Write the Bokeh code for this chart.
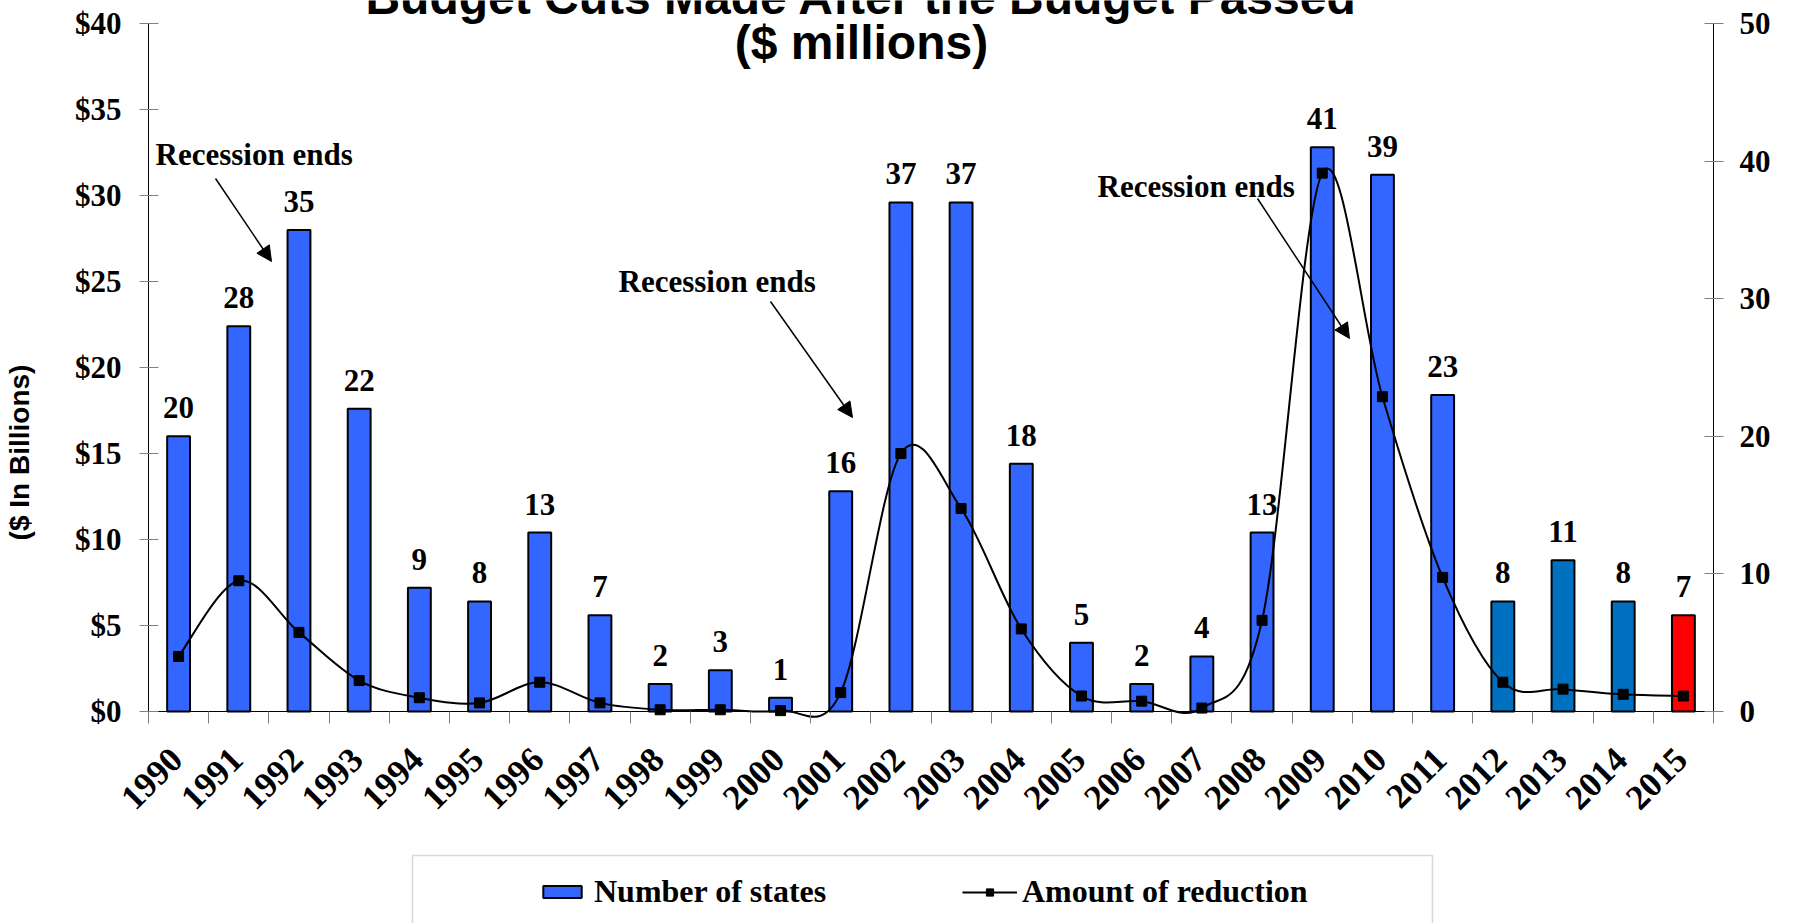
import numpy as np
from math import pi
from bokeh.plotting import figure
from bokeh.models import (Range1d, LinearAxis, FixedTicker, NumeralTickFormatter, ColumnDataSource,
                          LabelSet, Arrow, NormalHead, Legend, LegendItem, BoxAnnotation)
from bokeh.core.properties import value
from bokeh.embed import file_html
from bokeh.resources import INLINE

# ---------------- data ----------------
years = ["1990", "1991", "1992", "1993", "1994", "1995", "1996", "1997", "1998", "1999",
         "2000", "2001", "2002", "2003", "2004", "2005", "2006", "2007", "2008", "2009",
         "2010", "2011", "2012", "2013", "2014", "2015"]
num_states = [20, 28, 35, 22, 9, 8, 13, 7, 2, 3, 1, 16, 37, 37, 18, 5, 2, 4, 13, 41, 39, 23, 8, 11, 8, 7]
reduction_billions = [3.2, 7.6, 4.6, 1.8, 0.8, 0.5, 1.7, 0.5, 0.1, 0.1, 0.05, 1.1, 15.0, 11.8, 4.8,
                      0.9, 0.6, 0.2, 5.3, 31.3, 18.3, 7.8, 1.7, 1.3, 1.0, 0.9]
left_ticks = [0, 5, 10, 15, 20, 25, 30, 35, 40]
right_ticks = [0, 10, 20, 30, 40, 50]

# ---------------- styles ----------------
BAR_BLUE = "#3366FF"
highlight = {"2012": "#0070C0", "2013": "#0070C0", "2014": "#0070C0", "2015": "#FF0000"}
SERIF = "Liberation Serif"
SANS = "Liberation Sans"

W, H = 1796, 923
XL, XR, YB, YT = 148, 1713, 711, 23   # axis positions in page pixels
n = len(years)
LMAX, RMAX = 40, 50

def dx(px):
    return (px - XL) / (XR - XL) * n

def dy(py):
    return (YB - py) / (YB - YT) * LMAX

# the plot frame covers the whole canvas; axes are pinned at the data edges
p = figure(width=W, height=H, x_range=Range1d(dx(0), dx(W)), y_range=Range1d(dy(H), dy(0)),
           output_backend="svg", toolbar_location=None,
           min_border_left=0, min_border_right=0, min_border_top=0, min_border_bottom=0)
p.extra_y_ranges = {"states": Range1d(dy(H) * RMAX / LMAX, dy(0) * RMAX / LMAX)}
p.outline_line_color = None
p.xgrid.visible = False
p.ygrid.visible = False
p.background_fill_color = "white"
p.border_fill_color = "white"

centers = [i + 0.5 for i in range(n)]
colors = [highlight.get(y, BAR_BLUE) for y in years]
src = ColumnDataSource(dict(x=centers, states=num_states, color=colors,
                            label=[str(v) for v in num_states], red=reduction_billions))

bars = p.vbar(x="x", top="states", width=0.38, bottom=0, source=src, y_range_name="states",
              fill_color="color", line_color="black", line_width=2)

# smooth line (Bezier segments through every data point)
xc = np.array(centers)
yc = np.array(reduction_billions)
xp = np.concatenate([[xc[0]], xc, [xc[-1]]])
yp = np.concatenate([[yc[0]], yc, [yc[-1]]])
i = np.arange(n - 1)
bz = dict(x0=xc[:-1], y0=yc[:-1], x1=xc[1:], y1=yc[1:],
          cx0=xp[i + 1] + (xp[i + 2] - xp[i]) / 6, cy0=yp[i + 1] + (yp[i + 2] - yp[i]) / 6,
          cx1=xp[i + 2] - (xp[i + 3] - xp[i + 1]) / 6, cy1=yp[i + 2] - (yp[i + 3] - yp[i + 1]) / 6)
curve = p.bezier(source=ColumnDataSource(bz), x0="x0", y0="y0", x1="x1", y1="y1",
                 cx0="cx0", cy0="cy0", cx1="cx1", cy1="cy1", line_color="black", line_width=2)
marks = p.scatter(x="x", y="red", source=src, marker="square", size=10,
                  fill_color="black", line_color="black")

# value labels above bars
p.add_layout(LabelSet(x="x", y="states", text="label", source=src, y_range_name="states",
                      y_offset=18, text_align="center", text_baseline="alphabetic",
                      text_font=value(SERIF), text_font_style="bold", text_font_size="31px",
                      text_color="black"))

# axes
yl = p.yaxis[0]
yl.ticker = FixedTicker(ticks=left_ticks)
yl.formatter = NumeralTickFormatter(format="$0")
yl.fixed_location = 0
yl.bounds = (0, LMAX)
yr = LinearAxis(y_range_name="states", ticker=FixedTicker(ticks=right_ticks),
                fixed_location=n, bounds=(0, RMAX))
p.add_layout(yr, "right")
for ax, tin, tout, so in ((yl, 10, 9, 18), (yr, 9, 10, 16)):
    ax.axis_line_color = "black"
    ax.major_tick_line_color = "#808080"
    ax.major_tick_in = tin
    ax.major_tick_out = tout
    ax.minor_tick_line_color = None
    ax.major_label_standoff = so
    ax.major_label_text_font = SERIF
    ax.major_label_text_font_style = "bold"
    ax.major_label_text_font_size = "31px"
    ax.major_label_text_color = "black"

label_shift = -0.04   # fine placement of the rotated year labels against the bar centres
xa = p.xaxis[0]
xa.fixed_location = 0
xa.bounds = (0, n)
xa.ticker = FixedTicker(ticks=[c + label_shift for c in centers], minor_ticks=list(range(n + 1)))
xa.major_label_overrides = {c + label_shift: y for c, y in zip(centers, years)}
xa.axis_line_color = "black"
xa.major_tick_line_color = None
xa.major_tick_in = 0
xa.major_tick_out = 12
xa.minor_tick_line_color = "#808080"
xa.minor_tick_in = 0
xa.minor_tick_out = 12
xa.major_label_orientation = pi / 4
xa.major_label_standoff = 30
xa.major_label_text_font = SERIF
xa.major_label_text_font_style = "bold"
xa.major_label_text_font_size = "35px"
xa.major_label_text_color = "black"

# title (first line runs off the top of the page)
titles = ColumnDataSource(dict(x=[dx(861), dx(861)], y=[dy(13), dy(58)],
                               t=["Budget Cuts Made After the Budget Passed", "($ millions)"]))
p.add_layout(LabelSet(x="x", y="y", text="t", source=titles, text_align="center",
                      text_baseline="alphabetic", text_font=value(SANS), text_font_style="bold",
                      text_font_size="48px", text_color="black"))

# y axis title
ytitle = ColumnDataSource(dict(x=[dx(28)], y=[dy(452)], t=["($ In Billions)"]))
p.add_layout(LabelSet(x="x", y="y", text="t", source=ytitle, angle=pi / 2, text_align="center",
                      text_baseline="alphabetic", text_font=value(SANS), text_font_style="bold",
                      text_font_size="28px", text_color="black"))

# recession annotations
note_txt = [(155, 164), (618, 291), (1097, 196)]
note_arr = [((215, 178), (271, 261)), ((770, 301), (852, 417)), ((1257, 198), (1349, 338))]
notes = ColumnDataSource(dict(x=[dx(a) for a, b in note_txt], y=[dy(b) for a, b in note_txt],
                              t=["Recession ends"] * 3))
p.add_layout(LabelSet(x="x", y="y", text="t", source=notes, text_align="left",
                      text_baseline="alphabetic", text_font=value(SERIF), text_font_style="bold",
                      text_font_size="31px", text_color="black"))
for (sx, sy), (ex, ey) in note_arr:
    p.add_layout(Arrow(x_start=dx(sx), y_start=dy(sy), x_end=dx(ex), y_end=dy(ey),
                       line_color="black", line_width=1.5,
                       end=NormalHead(size=15, fill_color="black", line_color="black")))

# legend box (runs off the bottom of the page) and the two legend entries
p.add_layout(BoxAnnotation(left=dx(412), right=dx(1432), top=dy(855), bottom=dy(1000),
                           fill_alpha=0, line_color="#808080", line_width=1.5))
common = dict(orientation="horizontal", padding=0, margin=0, border_line_color=None,
              background_fill_alpha=0, label_text_font=SERIF, label_text_font_style="bold",
              label_text_font_size="32px", label_text_color="black")
leg1 = Legend(items=[LegendItem(label="Number of states", renderers=[bars], index=0)],
              location=(538, H - 910), glyph_width=48, glyph_height=15,
              label_standoff=8, **common)
leg2 = Legend(items=[LegendItem(label="Amount of reduction", renderers=[curve, marks])],
              location=(962, H - 910), glyph_width=55, glyph_height=18,
              label_standoff=5, **common)
p.add_layout(leg1)
p.add_layout(leg2)

open("out.html", "w").write(file_html(p, INLINE))
